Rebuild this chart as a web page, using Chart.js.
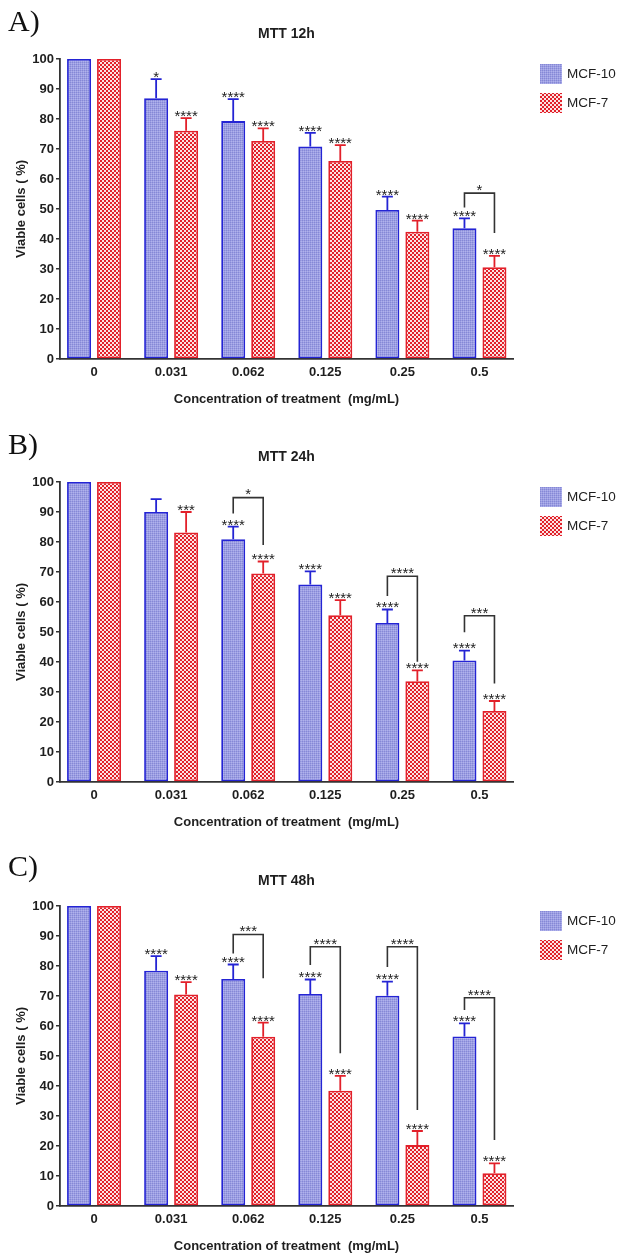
<!DOCTYPE html>
<html>
<head>
<meta charset="utf-8">
<script src="https://cdn.jsdelivr.net/npm/chart.js@4.4.1/dist/chart.umd.min.js"></script>
<style>
html,body{margin:0;padding:0;background:#fff;overflow:hidden;width:621px;height:1257px;}
.panel{position:absolute;left:0;width:621px;height:410px;}
canvas{display:block;}
</style>
</head>
<body>
<div class="panel" style="top:0px"><canvas id="cA" width="621" height="410"></canvas></div>
<div class="panel" style="top:423px"><canvas id="cB" width="621" height="410"></canvas></div>
<div class="panel" style="top:847px"><canvas id="cC" width="621" height="410"></canvas></div>
<script>
// ---------- shared labels ----------
const categories = ['0', '0.031', '0.062', '0.125', '0.25', '0.5'];
const seriesNames = ['MCF-10', 'MCF-7'];
const yTickStep = 10;
const yMin = 0;
const yMax = 100;

// ---------- A) MTT 12h ----------
const mcf10_12h     = [100, 86.9, 79.3, 70.8, 49.7, 43.6];
const mcf10_12h_err = [0, 6.4, 7.3, 4.6, 4.4, 3.3];
const mcf7_12h      = [100, 76.1, 72.7, 66.0, 42.4, 30.6];
const mcf7_12h_err  = [0, 4.2, 4.2, 5.3, 3.7, 3.8];
const stars10_12h   = ['', '*', '****', '****', '****', '****'];
const stars7_12h    = ['', '****', '****', '****', '****', '****'];
const brCats_12h    = [5];
const brTop_12h     = [55.3];
const brLeft_12h    = [50.5];
const brRight_12h   = [42.0];
const brLabel_12h   = ['*'];

// ---------- B) MTT 24h ----------
const mcf10_24h     = [100, 90.0, 80.9, 65.8, 53.0, 40.5];
const mcf10_24h_err = [0, 4.3, 4.2, 4.4, 4.5, 3.3];
const mcf7_24h      = [100, 83.2, 69.5, 55.6, 33.6, 23.7];
const mcf7_24h_err  = [0, 6.8, 4.0, 5.0, 3.6, 3.3];
const stars10_24h   = ['', '', '****', '****', '****', '****'];
const stars7_24h    = ['', '***', '****', '****', '****', '****'];
const brCats_24h    = [2, 4, 5];
const brTop_24h     = [94.8, 68.6, 55.4];
const brLeft_24h    = [89.5, 62.0, 49.9];
const brRight_24h   = [79.0, 40.1, 32.8];
const brLabel_24h   = ['*', '****', '***'];

// ---------- C) MTT 48h ----------
const mcf10_48h     = [100, 78.4, 75.7, 70.7, 70.1, 56.5];
const mcf10_48h_err = [0, 4.9, 4.8, 4.8, 4.7, 4.4];
const mcf7_48h      = [100, 70.5, 56.4, 38.4, 20.3, 10.9];
const mcf7_48h_err  = [0, 4.1, 4.7, 5.0, 4.7, 3.3];
const stars10_48h   = ['', '****', '****', '****', '****', '****'];
const stars7_48h    = ['', '****', '****', '****', '****', '****'];
const brCats_48h    = [2, 3, 4, 5];
const brTop_48h     = [90.5, 86.4, 86.4, 69.4];
const brLeft_48h    = [84.2, 80.3, 79.7, 65.3];
const brRight_48h   = [75.9, 50.9, 32.0, 22.0];
const brLabel_48h   = ['***', '****', '****', '****'];

// ---------- styles ----------
const FONT = "'Liberation Sans', Arial, Helvetica, sans-serif";
const BLUE_LINE = '#2424d4';
const RED_LINE = '#e2202a';
const TEXT = '#1e1e1e';

function makePattern(kind) {
  const c = document.createElement('canvas');
  c.width = 4; c.height = 4;
  const g = c.getContext('2d');
  if (kind === 'blue') {
    g.fillStyle = '#9c9ee2'; g.fillRect(0, 0, 4, 4);
    g.fillStyle = '#8588d6';
    g.fillRect(0, 0, 1, 1); g.fillRect(2, 2, 1, 1); g.fillRect(2, 0, 1, 1); g.fillRect(0, 2, 1, 1);
    g.fillStyle = '#b0b2ec';
    g.fillRect(1, 1, 1, 1); g.fillRect(3, 3, 1, 1); g.fillRect(3, 1, 1, 1); g.fillRect(1, 3, 1, 1);
  } else {
    g.fillStyle = '#fbe4e4'; g.fillRect(0, 0, 4, 4);
    g.fillStyle = '#e2202a';
    g.fillRect(0, 0, 2, 2); g.fillRect(2, 2, 2, 2);
  }
  return c;
}
const blueTile = makePattern('blue');
const redTile = makePattern('red');

Chart.defaults.font.family = FONT;
Chart.defaults.color = TEXT;

const annotPlugin = {
  id: 'annot',
  afterLayout(chart) {
    // spread category slots slightly wider than the drawn axis line (as in the original)
    const xs = chart.scales.x;
    xs._startPixel = xs.left - 4.5;
    xs._endPixel = xs.right + 5;
    xs._length = xs._endPixel - xs._startPixel;
  },
  afterDatasetsDraw(chart, args, o) {
    const ctx = chart.ctx;
    const ys = chart.scales.y;
    ctx.save();
    // error bars + stars
    chart.data.datasets.forEach((ds, di) => {
      const meta = chart.getDatasetMeta(di);
      meta.data.forEach((bar, j) => {
        const e = o.err[di][j];
        const v = ds.data[j];
        const yTop = ys.getPixelForValue(v + e);
        if (e > 0) {
          ctx.strokeStyle = ds.borderColor;
          ctx.lineWidth = 1.8;
          ctx.beginPath();
          ctx.moveTo(bar.x, bar.y);
          ctx.lineTo(bar.x, yTop);
          ctx.moveTo(bar.x - 5.5, yTop);
          ctx.lineTo(bar.x + 5.5, yTop);
          ctx.stroke();
        }
        const s = o.stars[di][j];
        if (s) {
          ctx.fillStyle = '#222';
          ctx.font = '15px ' + FONT;
          ctx.textAlign = 'center';
          ctx.textBaseline = 'alphabetic';
          ctx.fillText(s, bar.x, yTop + 2.8);
        }
      });
    });
    // brackets
    const m0 = chart.getDatasetMeta(0), m1 = chart.getDatasetMeta(1);
    o.brCats.forEach((ci, k) => {
      const x1 = m0.data[ci].x, x2 = m1.data[ci].x;
      const yt = ys.getPixelForValue(o.brTop[k]);
      const yl = ys.getPixelForValue(o.brLeft[k]);
      const yr = ys.getPixelForValue(o.brRight[k]);
      ctx.strokeStyle = '#333';
      ctx.lineWidth = 1.6;
      ctx.beginPath();
      ctx.moveTo(x1, yl); ctx.lineTo(x1, yt); ctx.lineTo(x2, yt); ctx.lineTo(x2, yr);
      ctx.stroke();
      ctx.fillStyle = '#222';
      ctx.font = '15px ' + FONT;
      ctx.textAlign = 'center';
      ctx.textBaseline = 'alphabetic';
      ctx.fillText(o.brLabel[k], (x1 + x2) / 2, yt + 1.8);
    });
    ctx.restore();
  },
  afterDraw(chart, args, o) {
    const ctx = chart.ctx;
    ctx.save();
    // panel letter
    ctx.fillStyle = '#111';
    ctx.font = "30px 'Liberation Serif', 'Times New Roman', serif";
    ctx.textAlign = 'left';
    ctx.textBaseline = 'alphabetic';
    ctx.fillText(o.panel, 8, o.panelY);
    // title
    const ca = chart.chartArea;
    ctx.font = 'bold 14px ' + FONT;
    ctx.textAlign = 'center';
    ctx.textBaseline = 'middle';
    ctx.fillStyle = TEXT;
    ctx.fillText(o.title, (ca.left + ca.right) / 2, 34);
    // legend
    chart.data.datasets.forEach((ds, i) => {
      const top = 64 + i * 29;
      ctx.fillStyle = ctx.createPattern(i === 0 ? blueTile : redTile, 'repeat');
      ctx.fillRect(540, top, 22, 20);
      ctx.fillStyle = TEXT;
      ctx.font = '13.5px ' + FONT;
      ctx.textAlign = 'left';
      ctx.textBaseline = 'middle';
      ctx.fillText(ds.label, 567, top + 10);
    });
    ctx.restore();
  }
};

function makePanel(id, panel, panelY, title, v10, e10, v7, e7, s10, s7, brCats, brTop, brLeft, brRight, brLabel) {
  const ctx = document.getElementById(id).getContext('2d');
  const bluePat = ctx.createPattern(blueTile, 'repeat');
  const redPat = ctx.createPattern(redTile, 'repeat');
  return new Chart(ctx, {
    type: 'bar',
    data: {
      labels: categories,
      datasets: [
        { label: seriesNames[0], data: v10, backgroundColor: bluePat, borderColor: BLUE_LINE, borderWidth: 1.8, borderSkipped: false, clip: false },
        { label: seriesNames[1], data: v7, backgroundColor: redPat, borderColor: RED_LINE, borderWidth: 1.8, borderSkipped: false, clip: false }
      ]
    },
    options: {
      responsive: false,
      animation: false,
      events: [],
      devicePixelRatio: 1,
      layout: { padding: { top: 59, right: 108, left: 0, bottom: 0 } },
      datasets: { bar: { barPercentage: 0.8, categoryPercentage: 0.778 } },
      scales: {
        x: {
          type: 'category',
          ticks: { font: { size: 13, weight: 'bold' }, color: TEXT, padding: 6, maxRotation: 0, autoSkip: false },
          grid: { display: false, drawTicks: false },
          border: { display: true, color: '#333', width: 1.8 },
          title: { display: true, text: 'Concentration of treatment  (mg/mL)', font: { size: 13, weight: 'bold' }, color: TEXT, padding: { top: 0, bottom: 3 } },
          afterFit(s) { s.height = 51; }
        },
        y: {
          min: yMin, max: yMax,
          ticks: { stepSize: yTickStep, font: { size: 13, weight: 'bold' }, color: TEXT, padding: 2 },
          grid: { display: true, drawOnChartArea: false, drawTicks: true, tickLength: 4, color: '#333', lineWidth: 1.5 },
          border: { display: true, color: '#333', width: 1.8 },
          title: { display: true, text: 'Viable cells ( %)', font: { size: 13, weight: 'bold' }, color: TEXT, padding: { top: 14, bottom: 0 } },
          afterFit(s) { s.width = 60; }
        }
      },
      plugins: {
        legend: { display: false },
        title: { display: false },
        tooltip: { enabled: false },
        annot: {
          panel, panelY, title,
          err: [e10, e7], stars: [s10, s7],
          brCats, brTop, brLeft, brRight, brLabel
        }
      }
    },
    plugins: [annotPlugin]
  });
}

makePanel('cA', 'A)', 31, 'MTT 12h', mcf10_12h, mcf10_12h_err, mcf7_12h, mcf7_12h_err, stars10_12h, stars7_12h,
  brCats_12h, brTop_12h, brLeft_12h, brRight_12h, brLabel_12h);
makePanel('cB', 'B)', 31, 'MTT 24h', mcf10_24h, mcf10_24h_err, mcf7_24h, mcf7_24h_err, stars10_24h, stars7_24h,
  brCats_24h, brTop_24h, brLeft_24h, brRight_24h, brLabel_24h);
makePanel('cC', 'C)', 29, 'MTT 48h', mcf10_48h, mcf10_48h_err, mcf7_48h, mcf7_48h_err, stars10_48h, stars7_48h,
  brCats_48h, brTop_48h, brLeft_48h, brRight_48h, brLabel_48h);
</script>
</body>
</html>
